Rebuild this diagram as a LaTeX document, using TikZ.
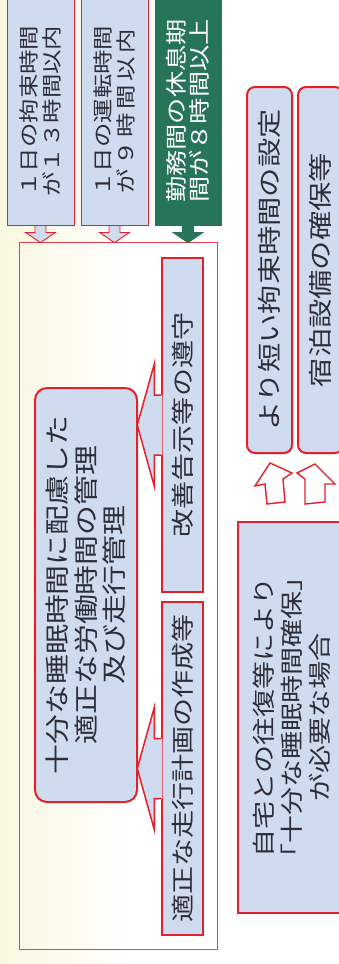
\documentclass[tikz,border=0pt]{standalone}
\usepackage{fontspec}
\newfontfamily\jp[FakeStretch=1.22]{Noto Sans CJK JP}
\usetikzlibrary{calc}
\definecolor{lblue}{RGB}{207,220,239}
\definecolor{rred}{RGB}{228,32,42}
\definecolor{dgreen}{RGB}{38,117,88}
\definecolor{cream}{RGB}{249,247,224}
\definecolor{ink}{RGB}{45,45,55}
\begin{document}
\begin{tikzpicture}[x=1pt,y=-1pt,
  vbox/.style={rotate=90, draw=rred, fill=lblue, inner sep=0pt, align=center, text=ink},
  topbox/.style={vbox, line width=0.9pt, minimum width=228pt, minimum height=67pt,
    font=\jp\fontsize{20}{22.5}\selectfont},
  callout/.style={vbox, line width=1.5pt, minimum height=41pt,
    font=\jp\fontsize{23}{27}\selectfont},
  sidebox/.style={vbox, line width=2pt, rounded corners=8pt, minimum width=366pt,
    minimum height=45pt, font=\jp\fontsize{24}{28}\selectfont},
  uparrow/.style={fill=white, draw=rred, line width=1.4pt, line join=miter},
]
\useasboundingbox (0,0) rectangle (339,964);
\clip (0,0) rectangle (339,964);
\fill[white] (0,0) rectangle (339,964);
\shade[left color=cream, right color=white] (0,0) rectangle (130,964);

% big frame
\node[draw=rred!85, line width=0.8pt, minimum width=198pt, minimum height=707pt,
  inner sep=0pt] (frame) at (118,595.5) {};

% top condition boxes
\node[topbox] (b1) at (40.5,111) {１日の拘束時間\\が１３時間以内};
\node[topbox] (b2) at (114.5,111)
  {１日の運転時間\\\makebox[164pt][s]{が\hfil{}９\hfil{}時\hfil{}間\hfil{}以\hfil{}内}};
\node[topbox, fill=dgreen, draw=dgreen, text=white, minimum height=66pt,
  font=\jp\fontsize{21.5}{23.5}\selectfont] (b3) at (188,111)
  {勤務間の休息期\\間が８時間以上};

% down arrows into the frame
\foreach \b/\f/\d in {b1/lblue/rred, b2/lblue/rred, b3/dgreen/dgreen}{
  \filldraw[fill=\f, draw=\d, line width=0.9pt, line join=miter]
    ($(\b.west)+(-5.5,0)$) -- ($(\b.west)+(-5.5,7)$) -- ($(\b.west)+(-15,7)$)
    -- ($(\b.west |- frame.north)+(0,1)$)
    -- ($(\b.west)+(15,7)$) -- ($(\b.west)+(5.5,7)$) -- ($(\b.west)+(5.5,0)$) -- cycle;
}

% central rounded box
\node[vbox, rounded corners=12pt, line width=2pt, minimum width=414pt, minimum height=102pt,
  font=\jp\fontsize{24.5}{28.5}\selectfont] (R) at (86,595)
  {十分な睡眠時間に配慮した\\適正な労働時間の管理\\及び走行管理};

% callout boxes
\node[callout, minimum width=334pt] (C1) at (182.5,425) {改善告示等の遵守};
\node[callout, minimum width=333pt] (C2) at (182.5,768.5) {適正な走行計画の作成等};

\foreach \c in {C1,C2}{
  \fill[lblue] ($(\c.north)+(1.2,-30)$) -- ($(\c.north)+(-7,-30)$) -- ($(\c.north)+(-7,-61)$)
    -- ($(\c.north)+(-24,0)$) -- ($(\c.north)+(-7,61)$) -- ($(\c.north)+(-7,30)$)
    -- ($(\c.north)+(1.2,30)$) -- cycle;
  \draw[rred, line width=1.5pt, line join=miter] ($(\c.north)+(0,-30)$) -- ($(\c.north)+(-7,-30)$)
    -- ($(\c.north)+(-7,-61)$) -- ($(\c.north)+(-24,0)$) -- ($(\c.north)+(-7,61)$)
    -- ($(\c.north)+(-7,30)$) -- ($(\c.north)+(0,30)$);
}

% right side
\node[sidebox] (T1) at (269.5,270) {より短い拘束時間の設定};
\node[sidebox] (T2) at (320.5,270) {宿泊設備の確保等};

\node[vbox, line width=2pt, minimum width=391pt, minimum height=107pt,
  font=\jp\fontsize{23}{28}\selectfont] (Bx) at (291.5,717.5)
  {自宅との往復等により\\「十分な睡眠時間確保」\\が必要な場合};

\begin{scope}[shift={(Bx.east)}]
  \draw[uparrow] (-24.5,-17) -- (-26.5,-37) -- (-36.5,-35) -- (-21.5,-58)
    -- (0.5,-48) -- (-8.5,-42) -- (-6.5,-19) -- cycle;
  \draw[uparrow] (13.5,-17) -- (13.5,-42) -- (5.5,-48) -- (23.5,-57)
    -- (43.5,-37) -- (33.5,-37) -- (33.5,-19) -- cycle;
\end{scope}
\end{tikzpicture}
\end{document}
